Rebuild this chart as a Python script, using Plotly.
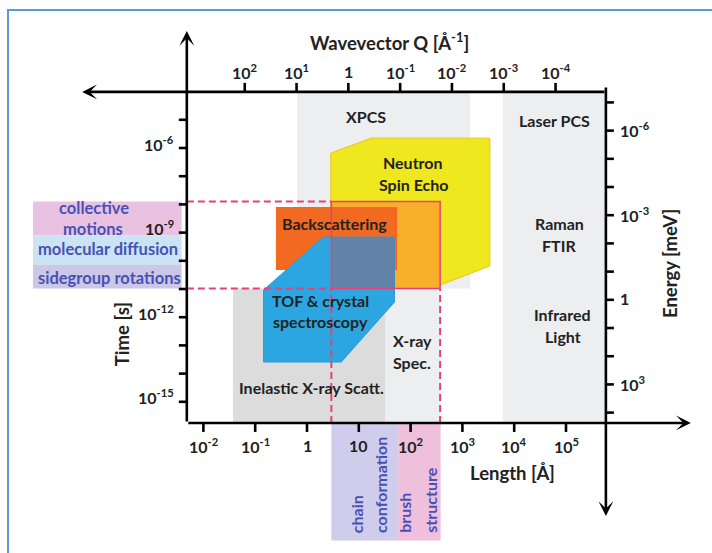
import numpy as np
import plotly.graph_objects as go

# ---------------- physical conversions ----------------
H_MEV_S = 4.1357e-12          # Planck constant in meV*s  (E = h / t)
LOG_2PI = np.log10(2 * np.pi)  # Q = 2*pi / L

# ---------------- tick data (decade exponents) ----------------
length_exp = [-2, -1, 0, 1, 2, 3, 4, 5]
length_labels = ["10<sup>-2</sup>", "10<sup>-1</sup>", "1", "10", "10<sup>2</sup>",
                 "10<sup>3</sup>", "10<sup>4</sup>", "10<sup>5</sup>"]
q_exp = [2, 1, 0, -1, -2, -3, -4]
q_labels = ["10<sup>2</sup>", "10<sup>1</sup>", "1", "10<sup>-1</sup>", "10<sup>-2</sup>",
            "10<sup>-3</sup>", "10<sup>-4</sup>"]
time_exp = [-5, -6, -7, -8, -9, -10, -11, -12, -13, -14, -15]
time_label_exp = [-6, -9, -12, -15]
time_labels = ["10<sup>-6</sup>", "10<sup>-9</sup>", "10<sup>-12</sup>", "10<sup>-15</sup>"]
energy_exp = [-7, -6, -5, -4, -3, -2, -1, 0, 1, 2, 3, 4]
energy_label_exp = [-6, -3, 0, 3]
energy_labels = ["10<sup>-6</sup>", "10<sup>-3</sup>", "1", "10<sup>3</sup>"]

# ---------------- map frame: log10(length / Å), log10(time / s) ----------------
axis_logL = [-2.32, 5.77]
axis_logt = [-15.75, -4.01]

# ---------------- technique regions (log10 L, log10 t) ----------------
xpcs_L, xpcs_t = [-0.19, 3.15], [-10.98, -4.01]
optical_L, optical_t = [3.78, 5.77], [-15.75, -4.01]
ixs_L, ixs_t = [-1.43, 1.51], [-15.75, -10.98]
xray_spec_L, xray_spec_t = [1.51, 2.57], [-15.75, -10.98]
nse_L = [0.46, 1.24, 3.53, 3.53, 2.57, 0.46]
nse_t = [-6.18, -5.65, -5.65, -10.18, -10.86, -10.86]
window_L, window_t = [0.47, 2.57], [-10.98, -7.90]
backscatter_L, backscatter_t = [-0.60, 1.74], [-10.33, -8.09]
tof_L = [-0.84, 0.31, 1.69, 1.69, 0.66, -0.84]
tof_t = [-11.04, -9.16, -9.16, -11.46, -13.59, -13.59]

# ---------------- polymer-brush scales ----------------
motion_L = [-5.29, -2.42]
collective_t = [-9.09, -7.90]
diffusion_t = [-10.13, -9.09]
sidegroup_t = [-10.98, -10.13]
chain_L = [0.47, 1.76]
brush_L = [1.76, 2.58]
structure_t = [-19.92, -15.75]

# ---------------- labels (text, log10 L, log10 t) ----------------
region_text = [
    ("XPCS", 1.14, -4.90), ("Laser PCS", 4.77, -5.04),
    ("Neutron", 2.05, -6.53), ("Spin Echo", 2.05, -7.31),
    ("Raman", 4.87, -8.66), ("FTIR", 4.87, -9.44),
    ("Infrared", 4.94, -11.92), ("Light", 4.94, -12.70),
    ("Backscattering", 0.54, -8.66),
    ("TOF & crystal", 0.27, -11.39), ("spectroscopy", 0.27, -12.17),
    ("X-ray", 2.03, -12.81), ("Spec.", 2.03, -13.59),
    ("Inelastic X-ray Scatt.", 0.08, -14.48),
]
motion_text = [
    ("collective", -4.11, -8.13), ("motions", -4.13, -8.87),
    ("molecular diffusion", -3.84, -9.58), ("sidegroup rotations", -3.82, -10.61),
]
structure_text = [("chain", 0.97), ("conformation", 1.43), ("brush", 1.89), ("structure", 2.38)]
structure_text_base = -19.72

FONT = "Lato"
TXT = "#222222"
BLUE_TXT = "#4751b5"
PINK = "#e6407b"

fig = go.Figure()


def poly(xs, ys, fill, line=None, lw=0):
    fig.add_trace(go.Scatter(x=list(xs) + [xs[0]], y=list(ys) + [ys[0]], mode="lines",
                             fill="toself", fillcolor=fill,
                             line=dict(color=line or fill, width=lw), hoverinfo="skip"))


def rect(xr, yr, fill, line=None, lw=0):
    poly([xr[0], xr[1], xr[1], xr[0]], [yr[0], yr[0], yr[1], yr[1]], fill, line, lw)


def seg(xs, ys, color, width=2, dash=None):
    fig.add_trace(go.Scatter(x=xs, y=ys, mode="lines",
                             line=dict(color=color, width=width, dash=dash), hoverinfo="skip"))


def txt(s, x, y, size=16, color=TXT, **kw):
    fig.add_annotation(x=x, y=y, xref="x", yref="y", text=s, showarrow=False,
                       font=dict(family=FONT, size=size, color=color, weight="bold"), **kw)


# background technique regions
rect(xpcs_L, xpcs_t, "#eceef0")
rect(xray_spec_L, xray_spec_t, "#eceef0")
rect(optical_L, optical_t, "#eceef0")
rect(ixs_L, ixs_t, "#dcdcdc")

# neutron techniques
poly(nse_L, nse_t, "#f0e81f", "#e8c41c", 1)
rect(window_L, window_t, "#f9ae2c")
rect(backscatter_L, backscatter_t, "#f26a22")
poly(tof_L, tof_t, "#2ca6e0", "#2b9ad2", 1)
overlap_L = [window_L[0], max(tof_L)]
overlap_t = [window_t[0], max(tof_t)]
rect(overlap_L, overlap_t, "#6283a7")

# polymer-brush window: solid frame + dashed guides
rect(window_L, window_t, "rgba(0,0,0,0)", PINK, 1.5)
for yv in window_t:
    seg([axis_logL[0], window_L[0]], [yv, yv], PINK, 2, "7px,4px")
for xv in window_L:
    seg([xv, xv], [axis_logt[0], window_t[0]], PINK, 2, "7px,4px")

# motion boxes (left)
rect(motion_L, collective_t, "#e9c1e1")
rect(motion_L, diffusion_t, "#cae4f3")
rect(motion_L, sidegroup_t, "#cbc7e6")
# structure boxes (bottom)
rect(chain_L, structure_t, "#cfcdeb")
rect(brush_L, structure_t, "#efc0dc")

# axis lines with arrows
AX_W = 2.6
arrow_lines = [
    ((axis_logL[0], axis_logt[0]), (axis_logL[0], -1.85)),   # time axis, up
    ((axis_logL[1], axis_logt[1]), (-4.34, axis_logt[1])),   # Q axis, left
    ((axis_logL[1], -3.80), (axis_logL[1], -19.05)),         # energy axis, down
    ((axis_logL[0], axis_logt[0]), (7.41, axis_logt[0])),    # length axis, right
]
for (x0, y0), (x1, y1) in arrow_lines:
    fig.add_annotation(x=x1, y=y1, ax=x0, ay=y0, xref="x", yref="y", axref="x", ayref="y",
                       text="", showarrow=True, arrowhead=3, arrowsize=0.95,
                       arrowwidth=AX_W, arrowcolor="black", standoff=0, startstandoff=0,
                       font=dict(family=FONT, size=12))

# ticks
shapes = []
for e in time_exp:
    shapes.append(dict(type="line", xref="x", yref="y", xsizemode="pixel", xanchor=axis_logL[0],
                       x0=-8, x1=0, y0=e, y1=e, line=dict(color="black", width=AX_W)))
for e in energy_exp:
    ty = np.log10(H_MEV_S) - e
    shapes.append(dict(type="line", xref="x", yref="y", xsizemode="pixel", xanchor=axis_logL[1],
                       x0=0, x1=8, y0=ty, y1=ty, line=dict(color="black", width=AX_W)))
for e in length_exp:
    shapes.append(dict(type="line", xref="x", yref="y", ysizemode="pixel", yanchor=axis_logt[0],
                       y0=-9, y1=0, x0=e, x1=e, line=dict(color="black", width=AX_W)))
for e in q_exp:
    lx = LOG_2PI - e
    shapes.append(dict(type="line", xref="x", yref="y", ysizemode="pixel", yanchor=axis_logt[1],
                       y0=0, y1=9, x0=lx, x1=lx, line=dict(color="black", width=AX_W)))
# outer frame
shapes.append(dict(type="rect", xref="paper", yref="paper", x0=8 / 712, x1=1.05,
                   y0=-0.05, y1=1 - 10 / 553, line=dict(color="#5b9bd5", width=2),
                   layer="below"))
fig.update_layout(shapes=shapes)

# tick labels
for e, s in zip(time_label_exp, time_labels):
    txt(s, axis_logL[0], e, xanchor="right", xshift=-11, yshift=5)
for e, s in zip(energy_label_exp, energy_labels):
    txt(s, axis_logL[1], np.log10(H_MEV_S) - e, xanchor="left", xshift=12, yshift=1)
for e, s in zip(length_exp, length_labels):
    txt(s, e, axis_logt[0], yanchor="middle", yshift=-23)
for e, s in zip(q_exp, q_labels):
    txt(s, LOG_2PI - e, axis_logt[1], yanchor="middle", yshift=20)

# axis titles
txt("Wavevector Q [Å<sup>-1</sup>]", 1.60, -2.24, size=18.5)
txt("Time [s]", -3.57, -12.60, size=18.5, textangle=-90)
txt("Energy [meV]", 7.01, -10.11, size=18.5, textangle=-90)
txt("Length [Å]", 3.96, -17.53, size=18.5)

# region labels
for s, x, y in region_text:
    txt(s, x, y, size=16)
for s, x, y in motion_text:
    txt(s, x, y, size=16.5, color=BLUE_TXT)
for s, x in structure_text:
    txt(s, x, structure_text_base, size=16, color=BLUE_TXT, textangle=-90, yanchor="bottom")

W, H = 712, 553
fig.update_layout(
    width=W, height=H, margin=dict(l=0, r=0, t=0, b=0),
    font=dict(family=FONT, size=16, color=TXT),
    paper_bgcolor="white", plot_bgcolor="white", showlegend=False,
    xaxis=dict(visible=False, range=[-307 / 51.8, (W - 307) / 51.8], fixedrange=True),
    yaxis=dict(visible=False, range=[-6 - (H - 148) / 28.2, -6 + 148 / 28.2], fixedrange=True),
)
fig.write_html("out.html", config={"displayModeBar": False},
               post_script="document.body.style.margin='0';document.body.style.overflow='hidden';")
